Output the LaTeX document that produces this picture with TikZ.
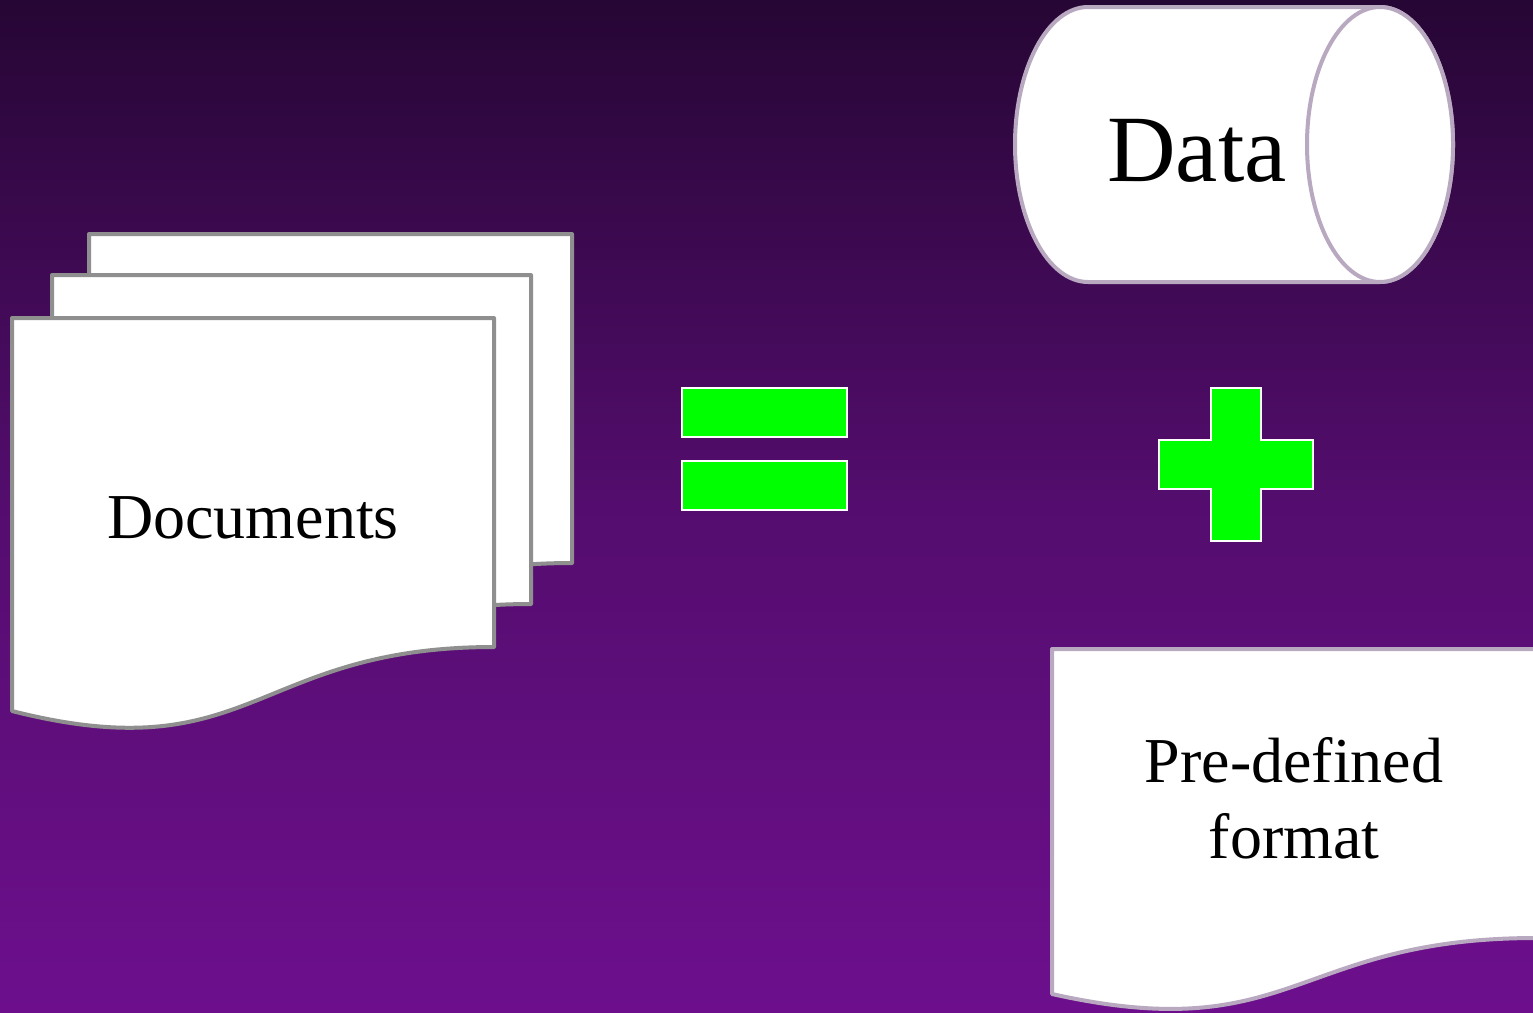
\documentclass[tikz,border=0pt]{standalone}
\usepackage{fontspec}
\setmainfont{Liberation Serif}
\definecolor{bgtop}{RGB}{38,6,52}
\definecolor{bgmid}{RGB}{84,13,110}
\definecolor{bgbot}{RGB}{109,15,141}
\definecolor{docgray}{RGB}{143,143,143}
\definecolor{lilac}{RGB}{184,168,192}
\definecolor{signgreen}{RGB}{0,255,0}
% the path fills the middle half of the declared shading
\pgfdeclareverticalshading{bgfade}{100bp}{color(0bp)=(bgbot); color(25bp)=(bgbot); color(50bp)=(bgmid); color(75bp)=(bgtop); color(100bp)=(bgtop)}
\begin{document}
\begin{tikzpicture}[x=1pt,y=-1pt,
  sheet/.style={fill=white,draw=docgray,line width=4pt,line join=round},
  lilacshape/.style={fill=white,draw=lilac,line width=4pt,line join=round},
  signbar/.style={fill=signgreen,draw=white,line width=2pt},
  label/.style={inner sep=0pt,text=black}]
  % background
  \shade[shading=bgfade] (0,0) rectangle (1533,1012);
  \useasboundingbox (0,0) rectangle (1533,1012);

  % stacked document sheets, back to front
  \foreach \sx/\sy/\sw in {89/234/483, 52/275/479, 12/318/482}{
    \draw[sheet,shift={(\sx,\sy)}]
      (0,0) -- (\sw,0) -- (\sw,329)
      .. controls ({\sw/2},329) and ({\sw/2},454) .. (0,393) -- cycle;
  }
  \node[label,anchor=base,font=\fontsize{64}{76}\selectfont] (docs) at (253,538) {Documents};

  % equals sign
  \draw[signbar] (682,388) rectangle (847,437);
  \draw[signbar] (682,461) rectangle (847,510);

  % plus sign
  \draw[signbar] (1211,388) -- (1261,388) -- (1261,440) -- (1313,440) -- (1313,489)
    -- (1261,489) -- (1261,541) -- (1211,541) -- (1211,489) -- (1159,489)
    -- (1159,440) -- (1211,440) -- cycle;

  % data store cylinder
  \draw[lilacshape] (1088,7) -- (1380,7)
    arc[start angle=90,end angle=-90,x radius=73pt,y radius=137.5pt]
    -- (1088,282)
    arc[start angle=270,end angle=90,x radius=73pt,y radius=137.5pt] -- cycle;
  \draw[lilacshape] (1380,144.5) ellipse[x radius=73pt,y radius=137.5pt];
  \node[label,anchor=base,font=\fontsize{95}{110}\selectfont] (data) at (1197,181) {Data};

  % pre-defined format sheet
  \draw[lilacshape,shift={(1052,649)}]
    (0,0) -- (484,0) -- (484,289)
    .. controls (242,289) and (242,399) .. (0,345) -- cycle;
  \node[label,align=center,font=\fontsize{64}{76}\selectfont] (fmt) at (1294,798) {Pre-defined\\format};
\end{tikzpicture}
\end{document}
